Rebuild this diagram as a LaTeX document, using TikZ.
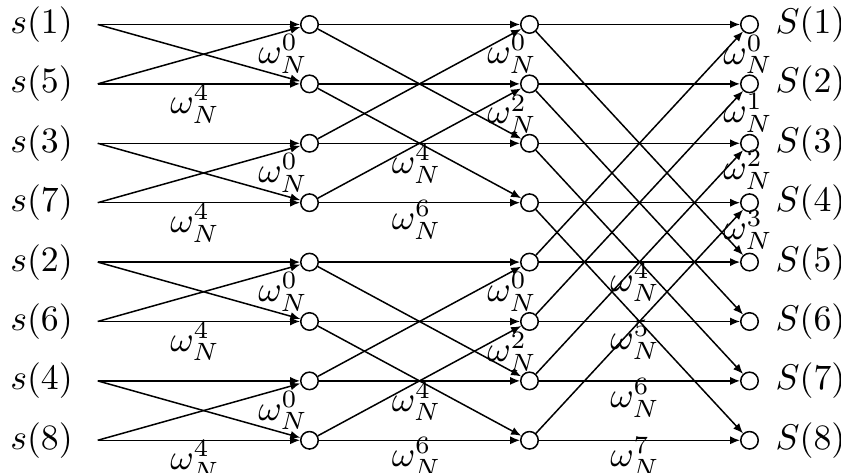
\documentclass[tikz,border=0pt]{standalone}
\usetikzlibrary{arrows.meta}
\begin{document}
\begin{tikzpicture}[x=0.28pt,y=-0.28pt,
  circ/.style={circle,draw,line width=0.42pt,minimum size=4.9pt,inner sep=0pt},
  edge/.style={line width=0.42pt,-{Latex[length=2.8pt,width=2.3pt]}},
  lbl/.style={inner sep=0pt},
  wt/.style={inner sep=0pt}]
\useasboundingbox (0,0) rectangle (841,473);
\def\rowy#1{24.5+59.4*#1}
% inputs and outputs
\foreach \i/\n in {0/1,1/5,2/3,3/7,4/2,5/6,6/4,7/8}{
  \node[lbl] (x\i) at (41.5,{\rowy{\i}}) {$s(\n)$};
  \coordinate (p\i) at (97.7,{\rowy{\i}});
}
\foreach \i in {0,...,7}{
  \node[circ] (a\i) at (309.5,{\rowy{\i}}) {};
  \node[circ] (b\i) at (529.5,{\rowy{\i}}) {};
  \node[circ] (c\i) at (749.5,{\rowy{\i}}) {};
  \pgfmathtruncatemacro\k{\i+1}
  \node[lbl,anchor=west] (o\i) at (775,{\rowy{\i}}) {$S(\k)$};
}
% stage 1
\foreach \i in {0,2,4,6}{
  \pgfmathtruncatemacro\j{\i+1}
  \draw[edge] (p\i) -- (a\i);
  \draw[edge] (p\i) -- (a\j);
  \draw[edge] (p\j) -- (a\i);
  \draw[edge] (p\j) -- (a\j);
  \node[wt] (wa\i) at (283,{\rowy{\i}+29.5}) {$\omega_N^0$};
  \node[wt] (wa\j) at (195,{\rowy{\j}+20}) {$\omega_N^4$};
}
% stage 2
\foreach \i in {0,1,4,5}{
  \pgfmathtruncatemacro\j{\i+2}
  \draw[edge] (a\i) -- (b\i);
  \draw[edge] (a\i) -- (b\j);
  \draw[edge] (a\j) -- (b\i);
  \draw[edge] (a\j) -- (b\j);
}
\foreach \i/\e/\x/\d in {0/0/512/29.5,1/2/512/30.5,2/4/416.5/20.5,3/6/416.5/17,
                         4/0/512/29.5,5/2/512/30.5,6/4/416.5/20.5,7/6/416.5/17}{
  \node[wt] (wb\i) at (\x,{\rowy{\i}+\d}) {$\omega_N^{\e}$};
}
% stage 3
\foreach \i in {0,1,2,3}{
  \pgfmathtruncatemacro\j{\i+4}
  \draw[edge] (b\i) -- (c\i);
  \draw[edge] (b\i) -- (c\j);
  \draw[edge] (b\j) -- (c\i);
  \draw[edge] (b\j) -- (c\j);
}
\foreach \i/\x/\d in {0/748/30,1/748/29,2/748/27,3/748/27,
                      4/635/20,5/635/18.5,6/635/17,7/635/17}{
  \node[wt] (wc\i) at (\x,{\rowy{\i}+\d}) {$\omega_N^{\i}$};
}
\end{tikzpicture}
\end{document}
